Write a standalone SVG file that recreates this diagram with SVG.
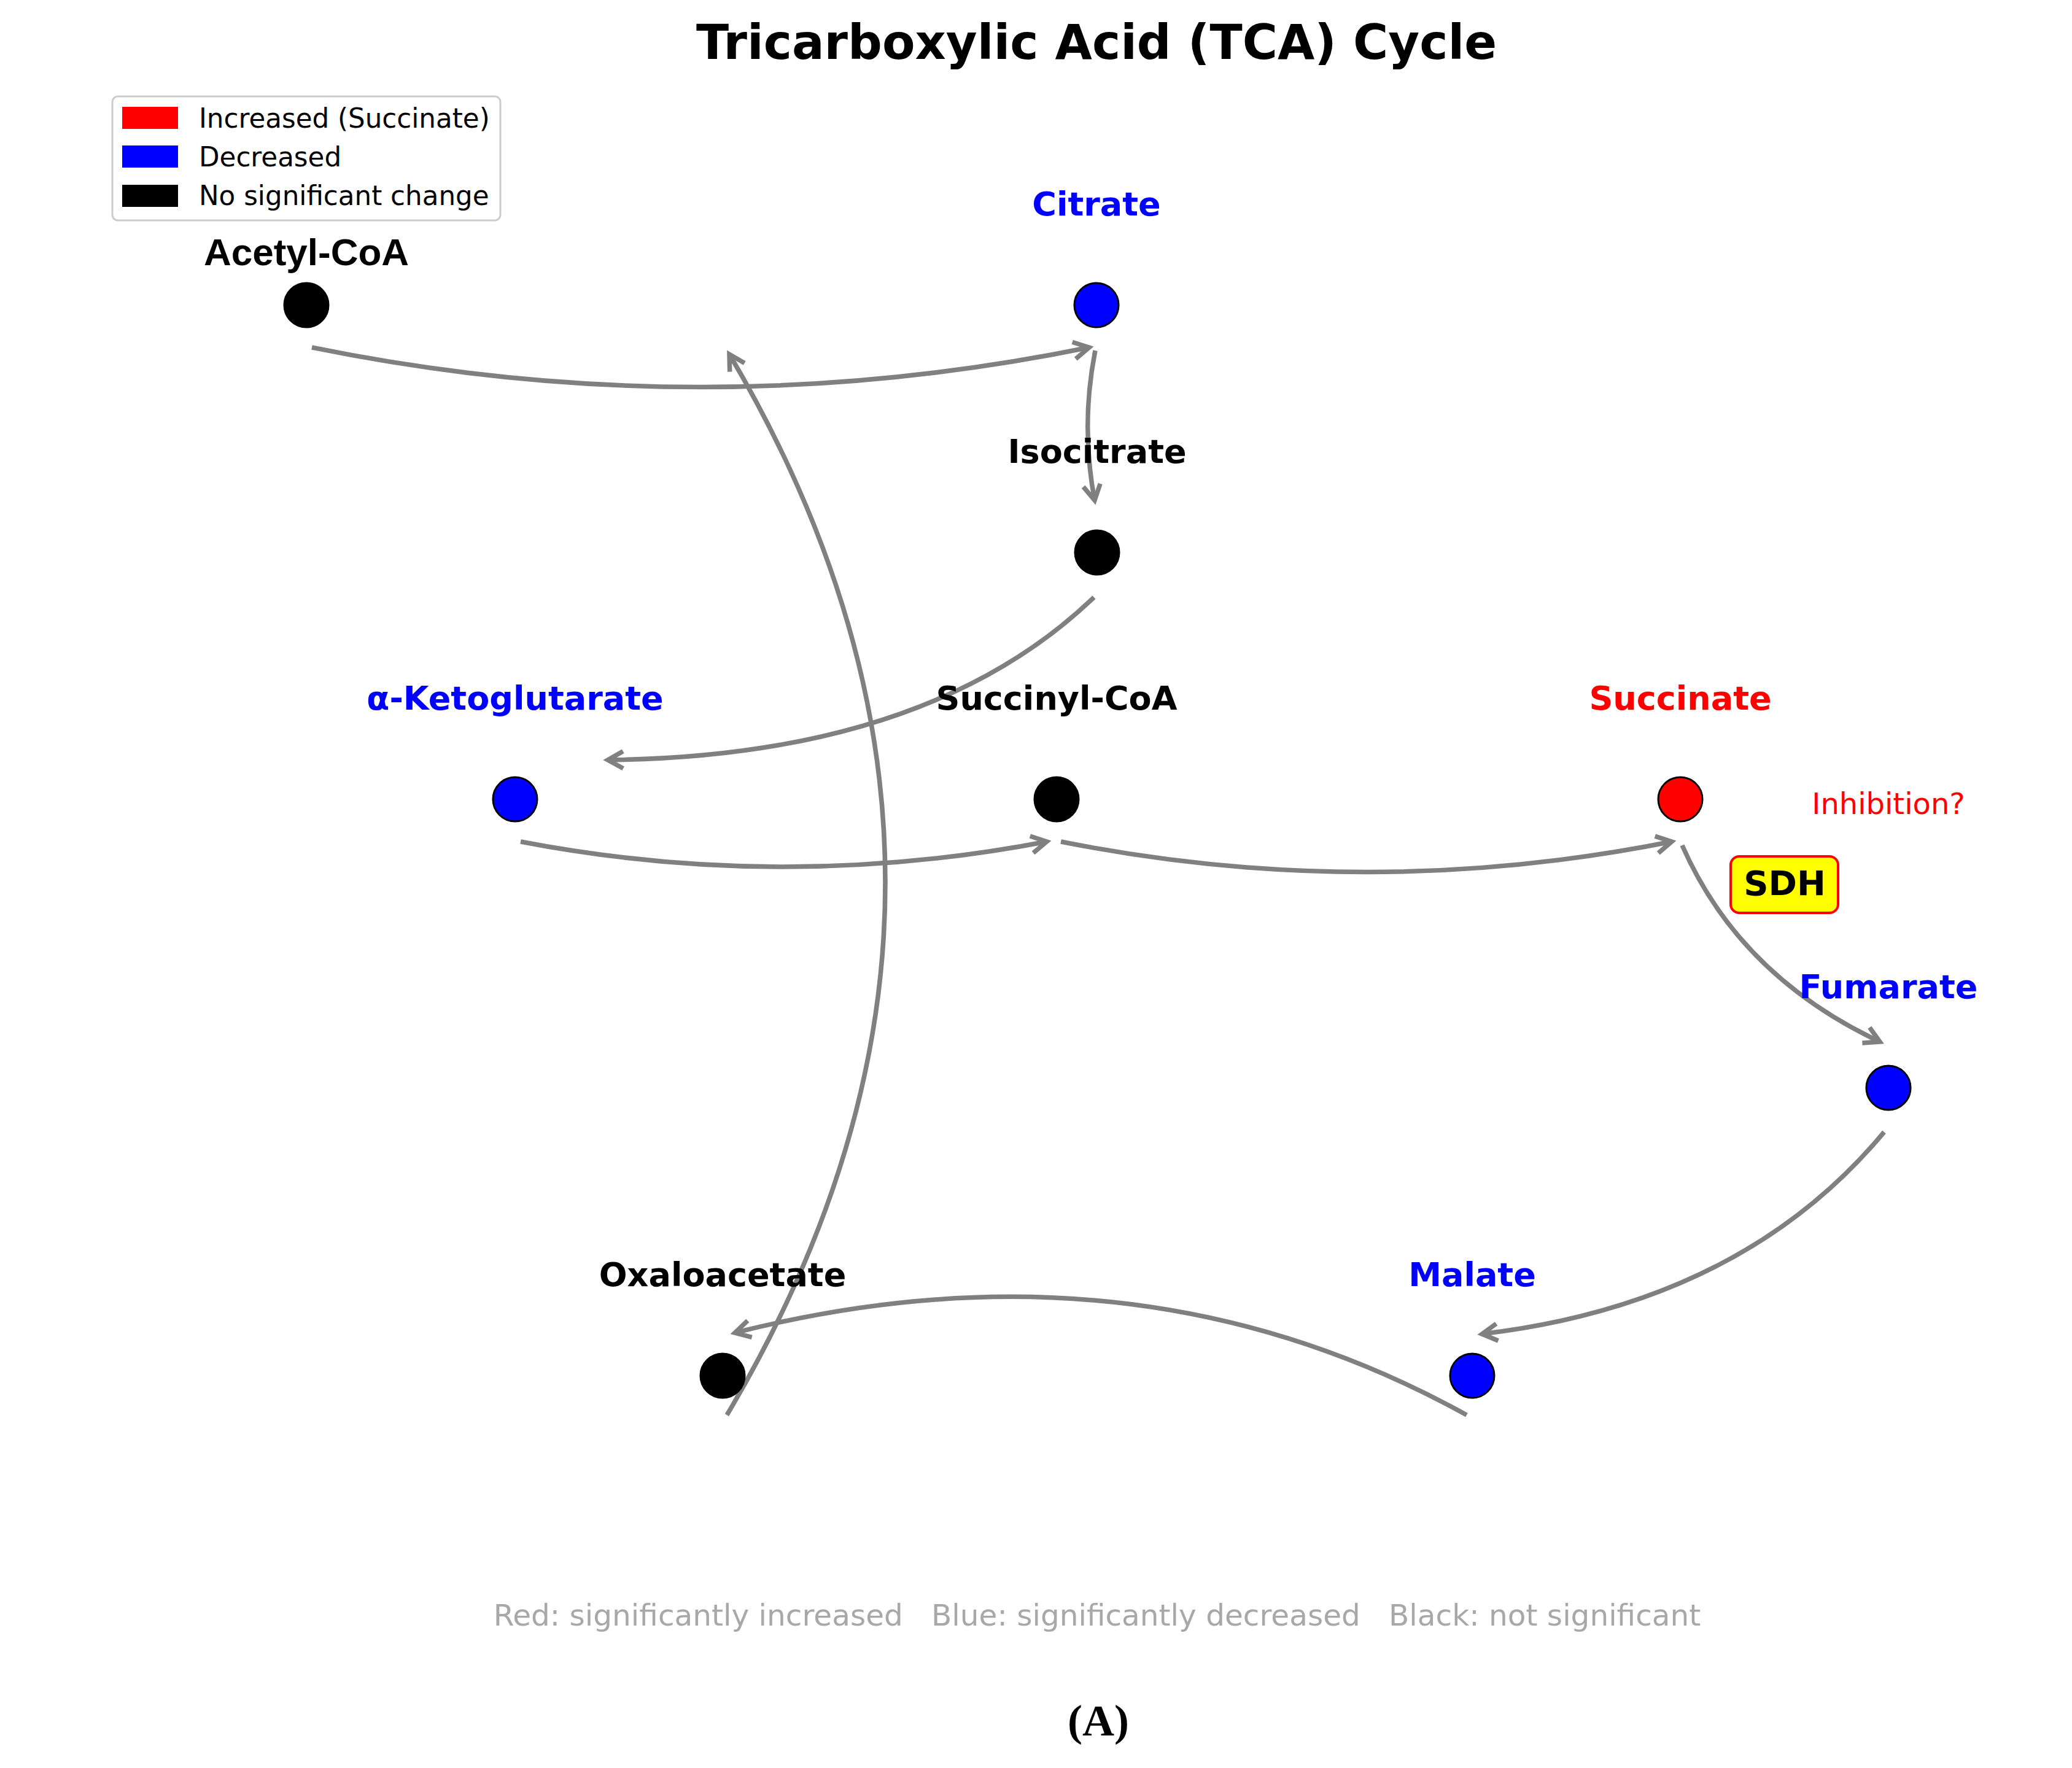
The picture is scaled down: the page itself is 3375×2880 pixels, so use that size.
<svg xmlns="http://www.w3.org/2000/svg" width="3375" height="2880" viewBox="0 0 3375 2880">
<style>
.lbl{font-family:"DejaVu Sans",sans-serif;font-weight:bold;font-size:54px;text-anchor:middle}
.blk{fill:#000}
.blu{fill:#0000ff}
.red{fill:#ff0000}
.node{stroke:#000;stroke-width:3}
.edge{fill:none;stroke:#808080;stroke-width:7.5;stroke-linecap:butt;marker-end:url(#ah)}
.leg{font-family:"DejaVu Sans",sans-serif;font-size:43.6px;fill:#000}
</style>
<defs>
<marker id="ah" markerUnits="userSpaceOnUse" markerWidth="70" markerHeight="70" viewBox="-35 -35 70 70" refX="0" refY="0" orient="auto" overflow="visible">
<path d="M-25,-14 L0,0 L-25,14" fill="none" stroke="#808080" stroke-width="7.5" stroke-linejoin="miter"/>
</marker>
</defs>
<rect width="3375" height="2880" fill="#fff"/>
<text x="1786" y="96" font-family="DejaVu Sans, sans-serif" font-weight="bold" font-size="78" text-anchor="middle" fill="#000">Tricarboxylic Acid (TCA) Cycle</text>

<g id="connectors">
<path class="edge" d="M508,566 Q1141,695 1774,566"/>
<path class="edge" d="M1784,571 Q1760,693 1783,815"/>
<path class="edge" d="M1782,973 Q1512,1232 990,1238"/>
<path class="edge" d="M848,1371 Q1276,1453 1705,1371"/>
<path class="edge" d="M1728,1371 Q2226,1470 2723,1371"/>
<path class="edge" d="M2740,1377 Q2833,1589 3062,1697"/>
<path class="edge" d="M3069,1844 Q2837,2123 2414,2173"/>
<path class="edge" d="M2389,2305 Q1849,2006 1197,2171"/>
<path class="edge" d="M1184,2305 Q1698,1440 1188,577"/>
</g>

<g id="legend">
<rect x="183" y="157" width="632" height="202" rx="9" fill="#fff" stroke="#cccccc" stroke-width="3"/>
<rect x="199" y="174" width="91" height="36" fill="#ff0000"/>
<rect x="199" y="237" width="91" height="36" fill="#0000ff"/>
<rect x="199" y="301" width="91" height="36" fill="#000"/>
<text class="leg" x="324" y="208">Increased (Succinate)</text>
<text class="leg" x="324" y="271">Decreased</text>
<text class="leg" x="324" y="334">No significant change</text>
</g>

<g id="node-acetylcoa">
<circle class="node blk" cx="499" cy="497" r="36"/>
<text x="499" y="432" font-family="Liberation Sans, Arial, sans-serif" font-weight="bold" font-size="62" text-anchor="middle" fill="#000">Acetyl-CoA</text>
</g>
<g id="node-citrate">
<circle class="node blu" cx="1786" cy="497" r="36"/>
<text class="lbl blu" x="1786" y="351">Citrate</text>
</g>
<g id="node-isocitrate">
<circle class="node blk" cx="1787" cy="900" r="36"/>
<text class="lbl blk" x="1787" y="754">Isocitrate</text>
</g>
<g id="node-akg">
<circle class="node blu" cx="839" cy="1302" r="36"/>
<text class="lbl blu" x="839" y="1156">α-Ketoglutarate</text>
</g>
<g id="node-succinylcoa">
<circle class="node blk" cx="1721" cy="1302" r="36"/>
<text class="lbl blk" x="1721" y="1156">Succinyl-CoA</text>
</g>
<g id="node-succinate">
<circle class="node red" cx="2737" cy="1302" r="36"/>
<text class="lbl red" x="2737" y="1156">Succinate</text>
</g>
<g id="node-fumarate">
<circle class="node blu" cx="3076" cy="1772" r="36"/>
<text class="lbl blu" x="3076" y="1626">Fumarate</text>
</g>
<g id="node-malate">
<circle class="node blu" cx="2398" cy="2241" r="36"/>
<text class="lbl blu" x="2398" y="2095">Malate</text>
</g>
<g id="node-oxaloacetate">
<circle class="node blk" cx="1177" cy="2241" r="36"/>
<text class="lbl blk" x="1177" y="2095">Oxaloacetate</text>
</g>

<g id="sdh">
<rect x="2819" y="1395" width="175" height="92" rx="14" fill="#ffff00" stroke="#ff0000" stroke-width="4"/>
<text x="2907" y="1458" font-family="DejaVu Sans, sans-serif" font-weight="bold" font-size="56" text-anchor="middle" fill="#000">SDH</text>
</g>
<text x="3076" y="1326" font-family="DejaVu Sans, sans-serif" font-size="48" text-anchor="middle" fill="#ff0000">Inhibition?</text>

<text x="1787" y="2648" font-family="DejaVu Sans, sans-serif" font-size="48.5" text-anchor="middle" fill="#a8a8a8" xml:space="preserve" style="white-space:pre">Red: significantly increased   Blue: significantly decreased   Black: not significant</text>
<text x="1789" y="2827" font-family="Liberation Serif, Times New Roman, serif" font-weight="bold" font-size="72" text-anchor="middle" fill="#000">(A)</text>
</svg>
